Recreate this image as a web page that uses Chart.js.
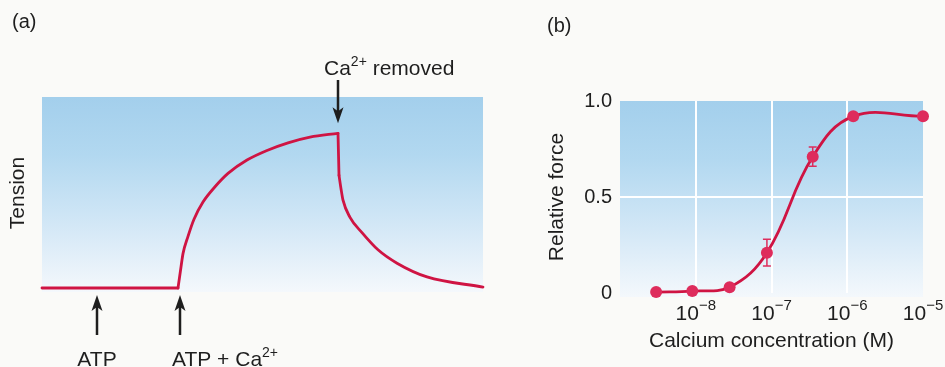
<!DOCTYPE html>
<html>
<head>
<meta charset="utf-8">
<script src="https://cdn.jsdelivr.net/npm/chart.js@4.4.0/dist/chart.umd.min.js"></script>
<style>
html, body { margin: 0; padding: 0; background: #fafaf8; }
#wrap { position: relative; width: 945px; height: 367px; overflow: hidden; }
#chartA { position: absolute; left: 0; top: 0; }
#chartB { position: absolute; left: 490px; top: 0; }
</style>
</head>
<body>
<div id="wrap">
  <canvas id="chartA" width="490" height="367"></canvas>
  <canvas id="chartB" width="455" height="367"></canvas>
</div>
<script>
// ---- panel (a): tension trace (time in arbitrary units, tension relative)
const baseTime = [0, 136];
const baseTension = [0, 0];
const riseTime = [136, 139, 141, 146, 152, 161, 173, 186, 205, 225, 246, 268, 296];
const riseTension = [0, 0.11, 0.18, 0.27, 0.36, 0.45, 0.53, 0.60, 0.67, 0.72, 0.76, 0.79, 0.81];
const dropTime = [296, 297];
const dropTension = [0.81, 0.59];
const decayTime = [297, 299, 301, 308, 320, 336, 355, 385, 441];
const decayTension = [0.59, 0.52, 0.46, 0.37, 0.29, 0.20, 0.13, 0.058, 0.005];
const eventTime = [55, 138, 296];

// ---- panel (b): force vs calcium
const calcium = [3e-9, 9e-9, 2.8e-8, 8.7e-8, 3.5e-7, 1.2e-6, 1e-5];
const relForce = [0.005, 0.01, 0.03, 0.21, 0.71, 0.92, 0.92];
const forceErr = [0, 0, 0, 0.07, 0.05, 0, 0];
const xTickValues = [1e-8, 1e-7, 1e-6, 1e-5];
const xTickExponents = ['\u22128', '\u22127', '\u22126', '\u22125'];
const yTickValues = [0, 0.5, 1];
const yTickLabels = ['0', '0.5', '1.0'];

const FONT = '"Liberation Sans", Arial, sans-serif';
const TEXT = '#1e1e1e';
const RED = '#cf1443';
const MARKER = '#de2c5c';

function pairs(xs, ys) {
    return xs.map((v, i) => ({x: v, y: ys[i]}));
}

// text with superscript pieces: [text, size, rise]
function drawParts(ctx, parts, x, y) {
    let cx = x;
    parts.forEach(p => {
        ctx.font = p[1] + 'px ' + FONT;
        ctx.fillText(p[0], cx, y - p[2]);
        cx += ctx.measureText(p[0]).width;
    });
}

function partsWidth(ctx, parts) {
    let w = 0;
    parts.forEach(p => {
        ctx.font = p[1] + 'px ' + FONT;
        w += ctx.measureText(p[0]).width;
    });
    return w;
}

function arrow(ctx, x, yTail, yTip) {
    const dir = yTip > yTail ? 1 : -1;
    ctx.lineWidth = 2.5;
    ctx.beginPath();
    ctx.moveTo(x, yTail);
    ctx.lineTo(x, yTip - dir * 9);
    ctx.stroke();
    ctx.beginPath();
    ctx.moveTo(x, yTip);
    ctx.lineTo(x - 5.5, yTip - dir * 16);
    ctx.lineTo(x, yTip - dir * 12);
    ctx.lineTo(x + 5.5, yTip - dir * 16);
    ctx.closePath();
    ctx.fill();
}

const bluePanel = {
    id: 'bluePanel',
    beforeDraw(chart) {
        const {ctx, chartArea: a} = chart;
        const g = ctx.createLinearGradient(0, a.top, 0, a.bottom + 4);
        g.addColorStop(0, 'rgb(163,207,236)');
        g.addColorStop(0.3, 'rgb(178,216,240)');
        g.addColorStop(0.65, 'rgb(210,231,246)');
        g.addColorStop(1, 'rgb(244,248,252)');
        ctx.save();
        ctx.fillStyle = g;
        ctx.fillRect(a.left, a.top, a.right - a.left, a.bottom - a.top + 4);
        ctx.restore();
    }
};

const annotA = {
    id: 'annotA',
    afterDraw(chart) {
        const {ctx, scales: {x, y}} = chart;
        const base = y.getPixelForValue(0);
        const peak = y.getPixelForValue(riseTension[riseTension.length - 1]);
        ctx.save();
        ctx.fillStyle = TEXT;
        ctx.strokeStyle = TEXT;
        ctx.textBaseline = 'middle';
        ctx.font = '20px ' + FONT;
        ctx.fillText('(a)', 12, 22);

        ctx.save();
        ctx.translate(18, 193);
        ctx.rotate(-Math.PI / 2);
        ctx.textAlign = 'center';
        ctx.font = '21px ' + FONT;
        ctx.fillText('Tension', 0, 0);
        ctx.restore();

        const xA = x.getPixelForValue(eventTime[0]);
        const xB = x.getPixelForValue(eventTime[1]);
        const xC = x.getPixelForValue(eventTime[2]);
        arrow(ctx, xA, base + 47, base + 7);
        arrow(ctx, xB, base + 47, base + 7);
        arrow(ctx, xC, 80, peak - 10);

        ctx.textBaseline = 'alphabetic';
        ctx.textAlign = 'left';
        const atp = [['ATP', 21, 0]];
        drawParts(ctx, atp, xA - partsWidth(ctx, atp) / 2, 366);
        drawParts(ctx, [['ATP + Ca', 21, 0], ['2+', 14, 9]], xB - 8, 366);
        drawParts(ctx, [['Ca', 21, 0], ['2+', 14, 9], [' removed', 21, 0]], xC - 14, 75);
        ctx.restore();
    }
};

new Chart(document.getElementById('chartA'), {
    type: 'line',
    data: {
        datasets: [
            {data: pairs(baseTime, baseTension)},
            {data: pairs(riseTime, riseTension), cubicInterpolationMode: 'monotone'},
            {data: pairs(dropTime, dropTension)},
            {data: pairs(decayTime, decayTension), cubicInterpolationMode: 'monotone'}
        ]
    },
    options: {
        responsive: false,
        animation: false,
        layout: {padding: {left: 42, right: 7, top: 97, bottom: 79}},
        plugins: {legend: {display: false}, tooltip: {enabled: false}},
        datasets: {line: {clip: false}},
        elements: {
            point: {radius: 0},
            line: {borderColor: RED, borderWidth: 2.8, fill: false, borderCapStyle: 'round'}
        },
        scales: {
            x: {type: 'linear', display: false, min: 0, max: 441},
            y: {display: false, min: 0, max: 1}
        }
    },
    plugins: [bluePanel, annotA]
});

const errorBars = {
    id: 'errorBars',
    beforeDatasetsDraw(chart) {
        const {ctx, scales: {x, y}} = chart;
        ctx.save();
        ctx.strokeStyle = MARKER;
        ctx.lineWidth = 1.5;
        calcium.forEach((c, i) => {
            if (!forceErr[i]) return;
            const px = x.getPixelForValue(c);
            const hi = y.getPixelForValue(relForce[i] + forceErr[i]);
            const lo = y.getPixelForValue(relForce[i] - forceErr[i]);
            ctx.beginPath();
            ctx.moveTo(px, hi); ctx.lineTo(px, lo);
            ctx.moveTo(px - 4, hi); ctx.lineTo(px + 4, hi);
            ctx.moveTo(px - 4, lo); ctx.lineTo(px + 4, lo);
            ctx.stroke();
        });
        ctx.restore();
    }
};

const annotB = {
    id: 'annotB',
    afterDraw(chart) {
        const {ctx, scales: {x}} = chart;
        ctx.save();
        ctx.fillStyle = TEXT;
        ctx.textBaseline = 'middle';
        ctx.font = '20px ' + FONT;
        ctx.fillText('(b)', 57, 26);
        ctx.textBaseline = 'alphabetic';
        xTickValues.forEach((v, i) => {
            const parts = [['10', 21, 0], [xTickExponents[i], 15, 10]];
            const w = partsWidth(ctx, parts);
            drawParts(ctx, parts, x.getPixelForValue(v) - w / 2, 320);
        });
        ctx.restore();
    }
};

new Chart(document.getElementById('chartB'), {
    type: 'line',
    data: {
        datasets: [{
            data: pairs(calcium, relForce),
            borderColor: RED,
            borderWidth: 2.8,
            tension: 0.4,
            pointRadius: 6,
            pointBackgroundColor: MARKER,
            pointBorderColor: MARKER,
            pointBorderWidth: 0,
            clip: false
        }]
    },
    options: {
        responsive: false,
        animation: false,
        layout: {padding: {left: 0, right: 22, top: 101, bottom: 0}},
        plugins: {legend: {display: false}, tooltip: {enabled: false}},
        scales: {
            x: {
                type: 'logarithmic',
                min: 1e-9,
                max: 1e-5,
                afterBuildTicks: s => { s.ticks = xTickValues.map(v => ({value: v})); },
                afterFit: s => { s.height = 74; },
                ticks: {display: false},
                grid: {
                    color: c => (c.index < 3 ? '#ffffff' : 'transparent'),
                    lineWidth: 2,
                    drawTicks: false
                },
                border: {display: false},
                title: {
                    display: true,
                    text: 'Calcium concentration (M)',
                    color: TEXT,
                    font: {family: FONT, size: 21},
                    padding: {top: 0, bottom: 13}
                }
            },
            y: {
                min: 0,
                max: 1,
                afterBuildTicks: s => { s.ticks = yTickValues.map(v => ({value: v})); },
                afterFit: s => { s.width = 130; },
                ticks: {
                    callback: (v, i) => yTickLabels[i],
                    color: TEXT,
                    font: {family: FONT, size: 20},
                    padding: 8
                },
                grid: {
                    color: c => (c.tick && c.tick.value === 0.5 ? '#ffffff' : 'transparent'),
                    lineWidth: 2,
                    drawTicks: false
                },
                border: {display: false},
                title: {
                    display: true,
                    text: 'Relative force',
                    color: TEXT,
                    font: {family: FONT, size: 21},
                    padding: {top: 55, bottom: 0}
                }
            }
        }
    },
    plugins: [bluePanel, errorBars, annotB]
});
</script>
</body>
</html>
